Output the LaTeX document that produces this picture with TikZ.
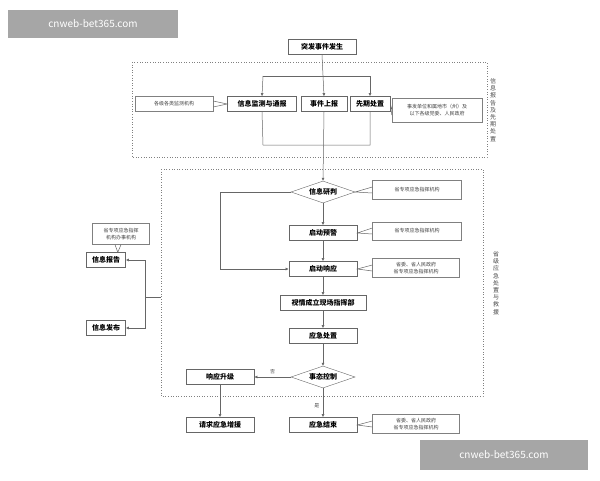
\documentclass[tikz,border=0pt]{standalone}
\usepackage{fontspec}
\setmainfont{Noto Sans CJK SC}
\newfontfamily\cjk{Noto Sans CJK SC}
\usetikzlibrary{shapes.geometric,arrows.meta}
\begin{document}
\begin{tikzpicture}[x=1pt,y=-1pt,
 box/.style={draw=black!60,fill=white,line width=0.6pt,minimum height=15pt,inner sep=1pt,font=\bfseries\fontsize{7}{8}\selectfont},
 dia/.style={draw=black!60,fill=white,diamond,aspect=3,inner sep=0pt,minimum width=64pt,minimum height=22pt,font=\bfseries\fontsize{7}{8}\selectfont},
 note/.style={draw=black!50,fill=white,line width=0.4pt,inner sep=1pt,font=\fontsize{5}{6.5}\selectfont,align=center,text=black!75},
 ln/.style={draw=black!60,line width=0.5pt},
 ar/.style={ln,-{Latex[length=3pt,width=3pt]}},
 dot/.style={draw=black!50,dotted,line width=0.6pt},
 side/.style={font=\fontsize{6}{7.2}\selectfont,align=center,text=black!70},
 wm/.style={fill=black!35,text=white,font=\fontsize{10}{12}\selectfont,inner sep=0pt}]
\useasboundingbox (0,0) rectangle (600,480);
\fill[white] (0,0) rectangle (600,480);
% dotted frames
\draw[dot] (132,62) rectangle (487,157);
\draw[dot] (161,169) rectangle (483,396);
\node[side] (s1) at (493,110) {信\\息\\报\\告\\及\\先\\期\\处\\置};
\node[side] (s2) at (496,283) {省\\级\\应\\急\\处\\置\\与\\救\\援};
% nodes
\node[box,minimum width=68pt] (top) at (322,47) {突发事件发生};
\node[box,minimum width=69pt] (jc) at (262,104) {信息监测与通报};
\node[box,minimum width=46pt] (sb) at (324,104) {事件上报};
\node[box,minimum width=40pt] (xq) at (370,104) {先期处置};
\node[dia] (yp) at (323,192) {信息研判};
\node[box,minimum width=68pt] (yj) at (323,233) {启动预警};
\node[box,minimum width=68pt] (xy) at (323,269) {启动响应};
\node[box,minimum width=86pt] (zh) at (323,303) {视情成立现场指挥部};
\node[box,minimum width=68pt] (cz) at (323,336) {应急处置};
\node[dia] (kz) at (323,377) {事态控制};
\node[box,minimum width=68pt] (sj) at (220,377) {响应升级};
\node[box,minimum width=68pt] (zy) at (220,425) {请求应急增援};
\node[box,minimum width=68pt] (js) at (323,425) {应急结束};
\node[box,minimum width=39pt] (bg) at (106,260) {信息报告};
\node[box,minimum width=39pt] (fb) at (106,328) {信息发布};
% notes
\node[note,minimum width=78pt,minimum height=15pt] (n1) at (174,104) {各级各类监测机构};
\node[note,minimum width=90pt,minimum height=24pt] (n2) at (437,110) {事发单位和属地市（州）及\\以下各级党委、人民政府};
\node[note,minimum width=89pt,minimum height=19pt] (n3) at (417,190) {省专项应急指挥机构};
\node[note,minimum width=89pt,minimum height=18pt] (n4) at (417,231) {省专项应急指挥机构};
\node[note,minimum width=87pt,minimum height=19pt] (n5) at (416,268) {省委、省人民政府\\省专项应急指挥机构};
\node[note,minimum width=87pt,minimum height=19pt] (n6) at (416,424) {省委、省人民政府\\省专项应急指挥机构};
\node[note,minimum width=57pt,minimum height=21pt] (n7) at (121,234) {省专项应急指挥\\机构办事机构};
% pointers
\draw[ln] ([yshift=-3pt]n1.east) -- (jc.west) -- ([yshift=3pt]n1.east);
\draw[ln] ([yshift=-5pt]n2.west) -- (xq.east) -- ([yshift=1pt]n2.west);
\draw[ln] ([yshift=-3pt]n3.west) -- (yp.east) -- ([yshift=3pt]n3.west);
\draw[ln] ([yshift=-3pt]n4.west) -- (yj.east) -- ([yshift=3pt]n4.west);
\draw[ln] ([yshift=-3pt]n5.west) -- (xy.east) -- ([yshift=3pt]n5.west);
\draw[ln] ([yshift=-3pt]n6.west) -- (js.east) -- ([yshift=3pt]n6.west);
\draw[ln] ([xshift=-6pt]n7.south) -- ([xshift=-8pt]bg.north east) -- ([xshift=0pt]n7.south);
% connectors top
\coordinate (ta) at (263,76); \coordinate (tb) at (370,76);
\draw[ln] (ta) -- (tb);
\draw[ar] (ta) -- (jc.north);
\draw[ar] (tb) -- (xq.north);
\draw[ar] (top.south) -- (sb.north);
\coordinate (ba) at (263,145); \coordinate (bb) at (370,145);
\draw[ln] (jc.south) -- (ba) -- (bb) -- (xq.south);
\draw[ar] (sb.south) -- (yp.north);
\draw[ar] (yp.south) -- (yj.north);
\draw[ar] (yj.south) -- (xy.north);
\coordinate (l1) at (220,192); \coordinate (l2) at (220,269);
\draw[ar] (yp.west) -- (l1) -- (l2) -- (xy.west);
\draw[ar] (xy.south) -- (zh.north);
\draw[ar] (zh.south) -- (cz.north);
\draw[ar] (cz.south) -- (kz.north);
\draw[ar] (kz.west) -- node[above,font=\fontsize{5}{5}\selectfont,text=black!70]{否} (sj.east);
\draw[ar] (sj.south) -- (zy.north);
\draw[ar] (kz.south) -- node[pos=0.6,left,font=\fontsize{5}{5}\selectfont,text=black!70]{是} (js.north);
% left branch
\coordinate (e1) at (161,297); \coordinate (e2) at (145,297);
\coordinate (e3) at (145,260); \coordinate (e4) at (145,328);
\draw[ln] (e1) -- (e2);
\draw[ar] (e2) -- (e3) -- (bg.east);
\draw[ar] (e2) -- (e4) -- (fb.east);
% watermarks
\node[wm,minimum width=170pt,minimum height=28pt] (w1) at (93,24) {cnweb-bet365.com};
\node[wm,minimum width=168pt,minimum height=30pt] (w2) at (504,455) {cnweb-bet365.com};
\end{tikzpicture}
\end{document}
